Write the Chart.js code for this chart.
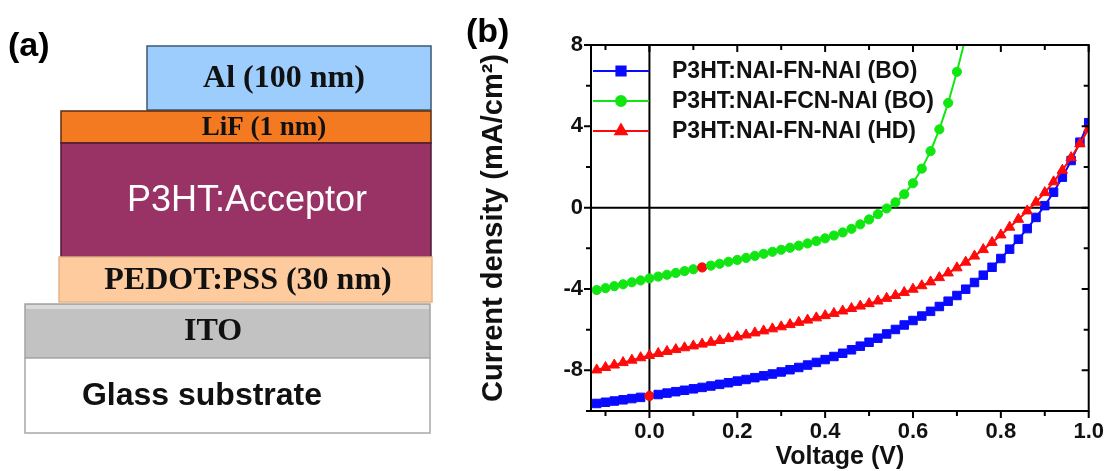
<!DOCTYPE html>
<html>
<head>
<meta charset="utf-8">
<script src="https://cdn.jsdelivr.net/npm/chart.js@4.4.1/dist/chart.umd.min.js"></script>
<style>
  html, body { margin: 0; padding: 0; background: #fff; }
  #wrap { position: relative; width: 1112px; height: 471px; overflow: hidden; }
  #panelA { position: absolute; left: 0; top: 0; }
  #panelB { position: absolute; left: 460px; top: 0; }
</style>
</head>
<body>
<div id="wrap">
  <canvas id="panelA" width="460" height="471"></canvas>
  <canvas id="panelB" width="652" height="471"></canvas>
</div>
<script>
// (a) device stack, listed top to bottom (drawing units of the sketch)
const layerNames = ['Al (100 nm)', 'LiF (1 nm)', 'P3HT:Acceptor', 'PEDOT:PSS (30 nm)', 'ITO', 'Glass substrate'];
const layerLeft = [147, 61, 61, 59, 25, 25];
const layerRight = [431, 431, 431, 432, 430, 430];
const layerTop = [46, 111, 143, 257, 304, 358];
const layerBottom = [110, 143, 257, 302, 358, 433];

// (b) J-V curves
const voltage = [-0.12, -0.10, -0.08, -0.06, -0.04, -0.02, 0.00, 0.02, 0.04, 0.06,
  0.08, 0.10, 0.12, 0.14, 0.16, 0.18, 0.20, 0.22, 0.24, 0.26,
  0.28, 0.30, 0.32, 0.34, 0.36, 0.38, 0.40, 0.42, 0.44, 0.46,
  0.48, 0.50, 0.52, 0.54, 0.56, 0.58, 0.60, 0.62, 0.64, 0.66,
  0.68, 0.70, 0.72, 0.74, 0.76, 0.78, 0.80, 0.82, 0.84, 0.86,
  0.88, 0.90, 0.92, 0.94, 0.96, 0.98, 1.00];

const jFnBO = [-9.63, -9.57, -9.51, -9.45, -9.39, -9.33, -9.26, -9.19, -9.12, -9.05,
  -8.98, -8.91, -8.84, -8.77, -8.69, -8.61, -8.53, -8.45, -8.36, -8.27,
  -8.18, -8.08, -7.97, -7.86, -7.74, -7.61, -7.47, -7.32, -7.16, -6.99,
  -6.81, -6.62, -6.42, -6.21, -5.99, -5.77, -5.55, -5.33, -5.10, -4.86,
  -4.60, -4.32, -4.01, -3.68, -3.32, -2.93, -2.50, -2.04, -1.55, -1.03,
  -0.48, 0.10, 0.76, 1.50, 2.32, 3.22, 4.18];

const jFcnBO = [-4.05, -3.96, -3.86, -3.77, -3.67, -3.58, -3.48, -3.39, -3.30, -3.21,
  -3.12, -3.03, -2.94, -2.85, -2.76, -2.66, -2.57, -2.47, -2.37, -2.27,
  -2.17, -2.07, -1.97, -1.87, -1.76, -1.64, -1.51, -1.37, -1.22, -1.04,
  -0.82, -0.58, -0.32, -0.04, 0.26, 0.66, 1.20, 1.92, 2.78, 3.85,
  5.15, 6.68, 8.40];

const jFnHD = [-7.98, -7.86, -7.74, -7.62, -7.50, -7.38, -7.27, -7.17, -7.07, -6.98,
  -6.89, -6.80, -6.71, -6.62, -6.53, -6.44, -6.35, -6.26, -6.16, -6.06,
  -5.96, -5.86, -5.75, -5.64, -5.53, -5.42, -5.31, -5.20, -5.08, -4.96,
  -4.84, -4.72, -4.59, -4.46, -4.32, -4.17, -4.01, -3.84, -3.65, -3.44,
  -3.21, -2.96, -2.68, -2.38, -2.06, -1.71, -1.34, -0.96, -0.57, -0.16,
  0.27, 0.74, 1.27, 1.84, 2.46, 3.14, 3.88];

// red marked points on two curves
const markFnBO = 0.00;
const markFcnBO = 0.12;

const xTickValues = [-0.1, 0, 0.1, 0.2, 0.3, 0.4, 0.5, 0.6, 0.7, 0.8, 0.9, 1.0];
const yTickValues = [-10, -8, -6, -4, -2, 0, 2, 4, 6, 8];

const SANS = '"Liberation Sans", Arial, sans-serif';
const SERIF = '"Liberation Serif", "Times New Roman", serif';

// ---------- panel (a) ----------
const layerFill = ['#9dcdfc', '#f47a22', '#993366', '#fdcb9d', '#c2c2c2', '#ffffff'];
const layerEdge = ['#3d5873', '#5b2c12', '#4d1a33', '#e6b487', '#a3a3a3', '#a8a8a8'];
const layerText = [
  { x: 284, font: 'bold 32px ' + SERIF, color: '#111' },
  { x: 264, font: 'bold 27px ' + SERIF, color: '#111' },
  { x: 247, font: '36px ' + SANS, color: '#ffffff' },
  { x: 248, font: 'bold 32px ' + SERIF, color: '#111' },
  { x: 213, font: 'bold 32px ' + SERIF, color: '#111' },
  { x: 202, font: 'bold 32px ' + SANS, color: '#111' }
];

const stackPlugin = {
  id: 'stackPlugin',
  afterDraw(chart) {
    const { ctx } = chart;
    const sx = chart.scales.x, sy = chart.scales.y;
    ctx.save();
    layerNames.forEach((name, i) => {
      const x0 = sx.getPixelForValue(layerLeft[i]);
      const x1 = sx.getPixelForValue(layerRight[i]);
      const y0 = sy.getPixelForValue(layerTop[i]);
      const y1 = sy.getPixelForValue(layerBottom[i]);
      ctx.fillStyle = layerFill[i];
      ctx.fillRect(x0, y0, x1 - x0, y1 - y0);
      ctx.strokeStyle = layerEdge[i];
      ctx.lineWidth = 1.5;
      ctx.strokeRect(x0, y0, x1 - x0, y1 - y0);
    });
    // ITO sheen on top edge
    const itoY = sy.getPixelForValue(layerTop[4]);
    const itoX0 = sx.getPixelForValue(layerLeft[4]);
    const itoX1 = sx.getPixelForValue(layerRight[4]);
    ctx.fillStyle = '#dadada';
    ctx.fillRect(itoX0 + 1, itoY + 1, itoX1 - itoX0 - 2, 4);

    layerNames.forEach((name, i) => {
      const t = layerText[i];
      ctx.font = t.font;
      ctx.fillStyle = t.color;
      ctx.textAlign = 'center';
      ctx.textBaseline = 'middle';
      ctx.fillText(name, sx.getPixelForValue(t.x), sy.getPixelForValue((layerTop[i] + layerBottom[i]) / 2) + 1);
    });

    ctx.font = 'bold 34px ' + SANS;
    ctx.fillStyle = '#000';
    ctx.textAlign = 'left';
    ctx.textBaseline = 'alphabetic';
    ctx.fillText('(a)', 8, 56);
    ctx.restore();
  }
};

new Chart(document.getElementById('panelA'), {
  type: 'scatter',
  data: { datasets: [] },
  options: {
    responsive: false,
    animation: false,
    layout: { padding: 0 },
    plugins: { legend: { display: false }, tooltip: { enabled: false } },
    scales: {
      x: { type: 'linear', min: 0, max: 460, display: false },
      y: { type: 'linear', min: 0, max: 471, reverse: true, display: false }
    }
  },
  plugins: [stackPlugin]
});

// ---------- panel (b) ----------
function toPoints(ys) {
  return ys.map((v, i) => ({ x: voltage[i], y: v }));
}

function isMark(ctx, mark) {
  return ctx.raw && Math.abs(ctx.raw.x - mark) < 1e-6;
}

const BLUE = '#0a0aff';
const GREEN = '#12e612';
const RED = '#ff0a0a';

const frameAxes = {
  id: 'frameAxes',
  beforeDatasetsDraw(chart) {
    const { ctx, chartArea: a } = chart;
    const x0 = chart.scales.x.getPixelForValue(0);
    const y0 = chart.scales.y.getPixelForValue(0);
    ctx.save();
    ctx.strokeStyle = '#000';
    ctx.lineWidth = 2;
    ctx.beginPath();
    ctx.moveTo(x0, a.top); ctx.lineTo(x0, a.bottom);
    ctx.moveTo(a.left, y0); ctx.lineTo(a.right, y0);
    ctx.stroke();
    ctx.restore();
  },
  afterDraw(chart) {
    const { ctx, chartArea: a } = chart;
    const sx = chart.scales.x, sy = chart.scales.y;
    ctx.save();
    ctx.strokeStyle = '#000';
    ctx.lineWidth = 2;
    ctx.strokeRect(a.left, a.top, a.right - a.left, a.bottom - a.top);
    ctx.beginPath();
    sx.ticks.forEach(t => {
      const px = sx.getPixelForValue(t.value);
      const len = t.label ? 7 : 5;
      ctx.moveTo(px, a.bottom); ctx.lineTo(px, a.bottom + len);
      ctx.moveTo(px, a.top); ctx.lineTo(px, a.top + len);
    });
    sy.ticks.forEach(t => {
      const py = sy.getPixelForValue(t.value);
      const len = t.label ? 7 : 5;
      ctx.moveTo(a.left - len, py); ctx.lineTo(a.left, py);
      ctx.moveTo(a.right - len, py); ctx.lineTo(a.right, py);
    });
    ctx.stroke();

    ctx.font = 'bold 34px ' + SANS;
    ctx.fillStyle = '#000';
    ctx.textAlign = 'left';
    ctx.textBaseline = 'alphabetic';
    ctx.fillText('(b)', 6, 42);
    ctx.restore();
  }
};

const legendRows = {
  id: 'legendRows',
  afterDraw(chart) {
    const { ctx, chartArea: a } = chart;
    chart.data.datasets.forEach((ds, i) => {
      const yRow = a.top + 26 + i * 30;
      ctx.save();
      ctx.strokeStyle = ds.borderColor;
      ctx.lineWidth = 2;
      ctx.beginPath();
      ctx.moveTo(a.left + 2, yRow);
      ctx.lineTo(a.left + 58, yRow);
      ctx.stroke();
      ctx.fillStyle = ds.borderColor;
      Chart.helpers.drawPoint(ctx, { pointStyle: ds.keyStyle, radius: ds.keyRadius, borderWidth: 1, rotation: 0 }, a.left + 30, yRow);
      ctx.fillStyle = '#111';
      ctx.font = 'bold 23px ' + SANS;
      ctx.textAlign = 'left';
      ctx.textBaseline = 'middle';
      ctx.fillText(ds.label, a.left + 81, yRow + 1);
      ctx.restore();
    });
  }
};

new Chart(document.getElementById('panelB'), {
  type: 'scatter',
  data: {
    datasets: [
      {
        label: 'P3HT:NAI-FN-NAI (BO)',
        data: toPoints(jFnBO),
        showLine: true,
        borderColor: BLUE,
        borderWidth: 2,
        pointStyle: ctx => isMark(ctx, markFnBO) ? 'circle' : 'rect',
        pointRadius: ctx => isMark(ctx, markFnBO) ? 4.6 : 6,
        pointBackgroundColor: ctx => isMark(ctx, markFnBO) ? RED : BLUE,
        pointBorderColor: ctx => isMark(ctx, markFnBO) ? RED : BLUE,
        pointBorderWidth: 1,
        keyStyle: 'rect',
        keyRadius: 6.5,
        clip: 0,
        order: 3
      },
      {
        label: 'P3HT:NAI-FCN-NAI (BO)',
        data: toPoints(jFcnBO),
        showLine: true,
        borderColor: GREEN,
        borderWidth: 2,
        pointStyle: 'circle',
        pointRadius: 4.6,
        pointBackgroundColor: ctx => isMark(ctx, markFcnBO) ? RED : GREEN,
        pointBorderColor: ctx => isMark(ctx, markFcnBO) ? RED : GREEN,
        pointBorderWidth: 1,
        keyStyle: 'circle',
        keyRadius: 5,
        clip: 0,
        order: 1
      },
      {
        label: 'P3HT:NAI-FN-NAI (HD)',
        data: toPoints(jFnHD),
        showLine: true,
        borderColor: RED,
        borderWidth: 2,
        pointStyle: 'triangle',
        pointRadius: 6,
        pointBackgroundColor: RED,
        pointBorderColor: RED,
        pointBorderWidth: 1,
        keyStyle: 'triangle',
        keyRadius: 6.5,
        clip: 0,
        order: 2
      }
    ]
  },
  options: {
    responsive: false,
    animation: false,
    layout: { padding: { left: 17, right: 19, top: 45, bottom: 0 } },
    plugins: { legend: { display: false }, tooltip: { enabled: false } },
    scales: {
      x: {
        type: 'linear',
        min: -0.133,
        max: 1.0,
        afterBuildTicks: s => { s.ticks = xTickValues.map(v => ({ value: v })); },
        afterFit: s => { s.height = 60; },
        grid: { display: false, drawTicks: false },
        border: { display: false },
        ticks: {
          padding: 8,
          color: '#111',
          font: { family: SANS, size: 22, weight: 'bold' },
          maxRotation: 0,
          autoSkip: false,
          callback: v => (Math.abs(Math.round(v * 10)) % 2 === 0) ? v.toFixed(1) : ''
        },
        title: {
          display: true,
          text: 'Voltage (V)',
          color: '#111',
          padding: { top: 0, bottom: 0 },
          font: { family: SANS, size: 25, weight: 'bold', lineHeight: 1.1 }
        }
      },
      y: {
        type: 'linear',
        min: -10,
        max: 8,
        afterBuildTicks: s => { s.ticks = yTickValues.map(v => ({ value: v })); },
        afterFit: s => { s.width = 114; },
        grid: { display: false, drawTicks: false },
        border: { display: false },
        ticks: {
          padding: 8,
          color: '#111',
          font: { family: SANS, size: 22, weight: 'bold' },
          autoSkip: false,
          callback: v => (v % 4 === 0 && v !== -10) ? String(v) : ''
        },
        title: {
          display: true,
          text: 'Current density (mA/cm\u00B2)',
          color: '#111',
          padding: { top: 0, bottom: 0 },
          font: { family: SANS, size: 29, weight: 'bold', lineHeight: 1.2 }
        }
      }
    }
  },
  plugins: [frameAxes, legendRows]
});
</script>
</body>
</html>
